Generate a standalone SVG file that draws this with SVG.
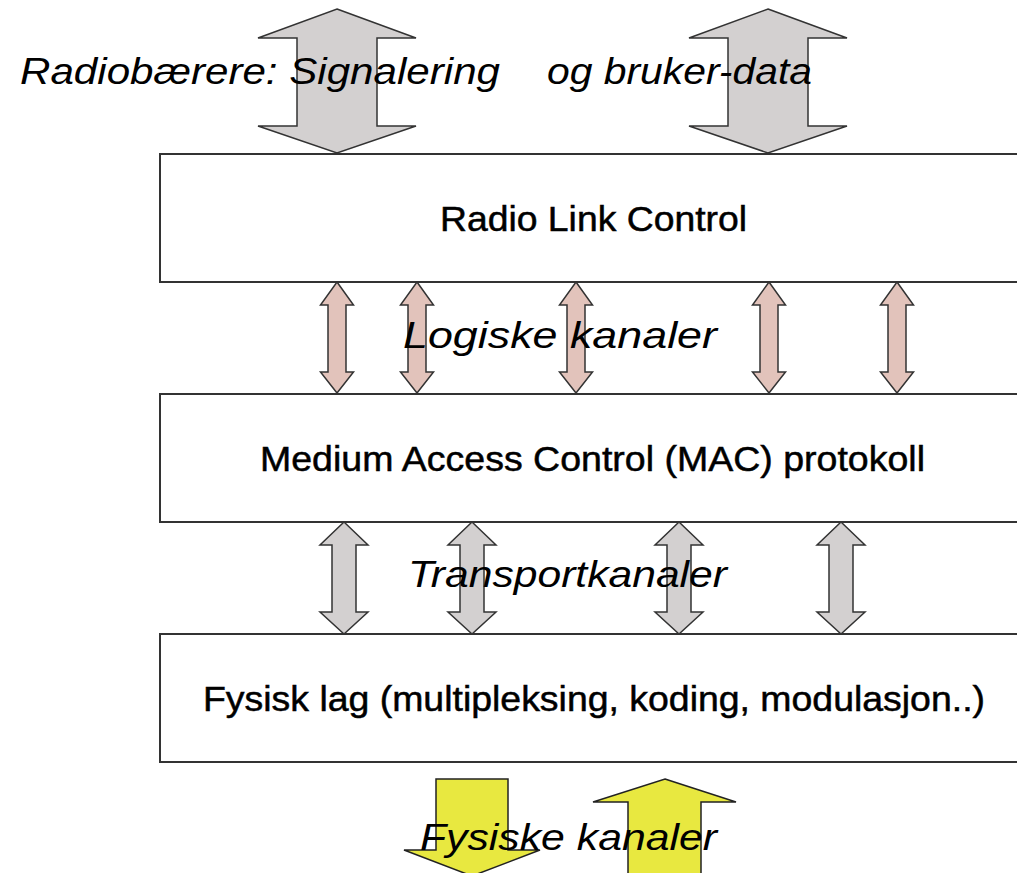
<svg xmlns="http://www.w3.org/2000/svg" width="1017" height="873" viewBox="0 0 1017 873">
<style>
.box{fill:#fff;stroke:#333;stroke-width:2}
.ag{fill:#d3d0d0;stroke:#333;stroke-width:1.5;stroke-linejoin:miter}
.ap{fill:#e2c3bb;stroke:#333;stroke-width:1.5}
.ay{fill:#e8e840;stroke:#222;stroke-width:1.5}
.lbl{font-family:"Liberation Sans",Arial,sans-serif;font-size:35px;fill:#000;stroke:#000;stroke-width:0.5}
.it{font-family:"Liberation Sans",Arial,sans-serif;font-size:36px;font-style:italic;fill:#000}
</style>
<rect width="1017" height="873" fill="#fff"/>
<g id="rlc"><rect class="box" x="160" y="154" width="880" height="128"/>
<text class="lbl" x="440" y="231" textLength="307" lengthAdjust="spacingAndGlyphs">Radio Link Control</text></g>
<g id="mac"><rect class="box" x="160" y="394" width="880" height="128"/>
<text class="lbl" x="260" y="471" textLength="665" lengthAdjust="spacingAndGlyphs">Medium Access Control (MAC) protokoll</text></g>
<g id="phy"><rect class="box" x="160" y="634" width="880" height="128"/>
<text class="lbl" x="203" y="711" textLength="782" lengthAdjust="spacingAndGlyphs">Fysisk lag (multipleksing, koding, modulasjon..)</text></g>
<g id="connectors">
<polygon class="ag" points="337,9 416,38 377,38 377,126 416,126 337,153 258,126 297,126 297,38 258,38"/>
<polygon class="ag" points="768,9 847,38 808,38 808,126 847,126 768,153 689,126 728,126 728,38 689,38"/>
<polygon class="ap" points="337,282 353.5,305 346,305 346,372 353.5,372 337,393 320.5,372 328,372 328,305 320.5,305"/>
<polygon class="ap" points="417,282 433.5,305 426,305 426,372 433.5,372 417,393 400.5,372 408,372 408,305 400.5,305"/>
<polygon class="ap" points="576,282 592.5,305 585,305 585,372 592.5,372 576,393 559.5,372 567,372 567,305 559.5,305"/>
<polygon class="ap" points="769,282 785.5,305 778,305 778,372 785.5,372 769,393 752.5,372 760,372 760,305 752.5,305"/>
<polygon class="ap" points="897,282 913.5,305 906,305 906,372 913.5,372 897,393 880.5,372 888,372 888,305 880.5,305"/>
<polygon class="ag" points="344,522 368,545 356,545 356,612 368,612 344,634 320,612 332,612 332,545 320,545"/>
<polygon class="ag" points="472,522 496,545 484,545 484,612 496,612 472,634 448,612 460,612 460,545 448,545"/>
<polygon class="ag" points="679,522 703,545 691,545 691,612 703,612 679,634 655,612 667,612 667,545 655,545"/>
<polygon class="ag" points="841,522 865,545 853,545 853,612 865,612 841,634 817,612 829,612 829,545 817,545"/>
<polygon class="ay" points="436,779 508,779 508,850 540,850 472,876 404,850 436,850"/>
<polygon class="ay" points="665,779 736,802 701,802 701,880 628,880 628,802 593,802"/>
</g>
<g id="labels">
<text class="it" x="20" y="84" textLength="480" lengthAdjust="spacingAndGlyphs">Radiobærere: Signalering</text>
<text class="it" x="547" y="84" textLength="265" lengthAdjust="spacingAndGlyphs">og bruker-data</text>
<text class="it" x="403" y="348" textLength="314" lengthAdjust="spacingAndGlyphs">Logiske  kanaler</text>
<text class="it" x="408" y="587" textLength="319" lengthAdjust="spacingAndGlyphs">Transportkanaler</text>
<text class="it" x="420" y="850" textLength="297" lengthAdjust="spacingAndGlyphs">Fysiske kanaler</text>
</g>
</svg>
